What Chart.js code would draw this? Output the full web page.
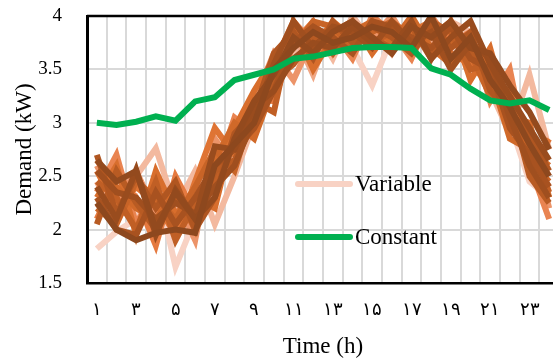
<!DOCTYPE html>
<html>
<head>
<meta charset="utf-8">
<script src="https://cdn.jsdelivr.net/npm/chart.js@4"></script>
<style>
  body { margin: 0; overflow: hidden; background: #fff; }
  #wrap { width: 562px; height: 358px; }
</style>
</head>
<body>
<div id="wrap"><canvas id="chart"></canvas></div>
<script>
// hours of the day, x tick labels in Persian digits
const hours = ['۱','۲','۳','۴','۵','۶','۷','۸','۹','۱۰','۱۱','۱۲','۱۳','۱۴','۱۵','۱۶','۱۷','۱۸','۱۹','۲۰','۲۱','۲۲','۲۳','۲۴'];
const yTicks = [1.5, 2, 2.5, 3, 3.5, 4];

// constant demand profile
const constant = [3.00,2.98,3.01,3.06,3.02,3.20,3.24,3.40,3.45,3.50,3.60,3.62,3.66,3.70,3.71,3.71,3.70,3.51,3.45,3.32,3.21,3.18,3.21,3.12];

// variable demand profiles (light -> dark)
const profile1  = [1.82,1.98,2.10,2.45,1.65,2.10,2.30,2.90,3.10,3.40,3.95,3.55,3.85,3.70,3.35,3.80,3.90,3.85,3.70,3.50,3.40,3.00,2.45,2.30];
const profile2  = [2.20,2.35,2.50,2.76,2.20,2.55,2.05,2.50,3.00,3.30,3.65,3.90,3.60,4.00,3.75,3.95,3.80,3.70,3.95,3.85,3.30,2.90,3.45,2.75];
const profile3  = [2.45,2.10,2.30,1.95,2.40,2.05,2.60,2.75,3.15,3.50,3.85,3.45,3.95,3.75,3.90,3.65,3.95,3.75,3.60,3.70,3.55,3.20,2.70,2.40];
const profile4  = [2.60,2.25,2.55,2.15,2.30,1.90,2.85,2.60,3.20,3.65,3.40,3.80,3.70,3.95,3.80,4.00,3.70,3.90,3.80,3.60,3.45,3.10,2.95,2.20];
const profile5  = [2.35,2.70,2.05,2.40,2.05,2.35,2.50,3.05,2.90,3.55,3.95,3.75,3.85,3.60,4.00,3.85,3.60,4.00,3.75,3.85,3.20,3.50,2.60,2.10];
const profile6  = [2.10,2.50,2.30,1.85,2.50,2.15,2.40,2.80,3.25,3.20,3.75,3.95,3.65,3.90,3.70,3.80,3.95,3.65,3.85,3.75,3.60,2.95,2.80,2.50];
const profile7  = [2.55,2.20,2.40,2.25,1.95,2.45,2.95,2.70,3.05,3.45,3.60,3.70,3.95,3.80,3.95,3.70,3.85,3.95,3.65,3.55,3.35,3.30,2.55,2.85];
const profile8  = [2.30,2.60,1.95,2.55,2.15,2.30,2.20,2.95,3.30,3.60,3.90,3.50,3.80,3.95,3.65,3.90,3.75,3.80,3.95,3.40,3.70,3.05,3.00,2.30];
const profile9  = [2.65,2.40,2.20,2.10,2.35,2.00,2.65,3.00,2.85,3.35,3.80,3.85,3.70,3.85,3.95,3.75,4.00,3.70,3.55,3.80,3.45,2.85,2.75,2.60];
const profile10 = [2.20,2.05,2.45,2.30,2.10,2.40,2.75,2.55,3.15,3.50,3.70,3.95,3.90,3.70,3.85,3.95,3.80,3.85,3.75,3.65,3.25,3.15,2.65,2.45];
const profile11 = [2.45,2.30,2.00,2.45,1.90,2.25,2.45,2.85,3.20,3.10,3.95,3.70,3.85,3.95,3.75,3.85,3.70,3.95,3.85,3.50,3.55,3.00,2.85,2.35];
const profile12 = [2.05,2.55,2.25,2.00,2.30,2.10,2.55,2.65,3.00,3.40,3.55,3.80,3.65,3.90,3.80,3.70,3.90,3.60,3.95,3.70,3.40,3.20,2.50,2.25];
const profile13 = [2.70,2.15,2.50,2.20,2.45,2.00,2.30,2.90,3.10,3.65,3.85,3.60,3.95,3.75,3.90,3.80,3.65,3.90,3.70,3.85,3.30,3.10,2.90,2.55];
const profile14 = [2.30,2.00,1.95,2.35,2.05,2.30,2.60,2.75,2.95,3.30,3.75,3.90,3.80,3.65,3.95,3.90,3.80,3.70,3.90,3.60,3.50,2.95,2.70,2.40];
const profile15 = [2.55,2.35,2.30,2.10,2.25,2.15,2.40,2.60,3.05,3.55,3.95,3.70,3.90,3.85,3.70,3.95,3.75,3.85,3.50,3.75,3.60,3.05,2.60,2.30];
const profile16 = [2.40,2.10,2.56,1.95,2.37,2.11,2.78,2.75,3.15,3.30,3.60,3.75,3.70,3.90,3.75,3.70,3.95,3.60,3.80,3.95,3.55,3.25,2.95,2.65];
const profile17 = [2.65,2.45,2.55,2.00,2.35,2.10,2.30,2.85,3.20,3.45,3.80,3.65,3.85,3.95,3.80,3.65,3.90,3.80,3.95,3.70,3.65,3.35,3.10,2.75];
const profile18 = [2.25,2.00,1.90,1.97,2.00,1.97,2.60,2.80,3.00,3.50,3.70,3.85,3.75,3.80,3.90,3.85,3.70,4.00,3.60,3.80,3.40,3.15,2.80,2.50];

const profiles = [profile1, profile2, profile3, profile4, profile5, profile6, profile7, profile8, profile9,
                  profile10, profile11, profile12, profile13, profile14, profile15, profile16, profile17, profile18];
const profileColors = ['#f8d2c4','#f3b99f','#f0a785','#ec9469','#e98451','#e57a40','#df7434','#d86e2d','#d06929',
                       '#c86427','#c05f25','#b85b23','#b05621','#a85220','#a04f1f','#994c1e','#934a1e','#8d481e'];
const constantColor = '#00b050';

const serif = "'Liberation Serif', 'Times New Roman', serif";

let datasets = [{
    label: 'Constant',
    data: constant,
    borderColor: constantColor,
    borderWidth: 6,
    order: 0,
    clip: 0
}];
for (let i = 0; i < profiles.length; i++) {
    datasets.push({
        label: i === 0 ? 'Variable' : '',
        data: profiles[i],
        borderColor: profileColors[i],
        borderWidth: 6,
        order: profiles.length - i,  // darker ones end up on top
        clip: 0
    });
}

// legend sits inside the plot, Excel style
const insideLegend = {
    id: 'insideLegend',
    afterDraw(chart) {
        const ctx = chart.ctx;
        const items = [
            { text: 'Variable', color: profileColors[0], y: 184 },
            { text: 'Constant', color: constantColor, y: 237 }
        ];
        ctx.save();
        ctx.lineCap = 'round';
        ctx.font = '23px ' + serif;
        ctx.textBaseline = 'middle';
        ctx.fillStyle = '#000';
        items.forEach(it => {
            ctx.strokeStyle = it.color;
            ctx.lineWidth = 6;
            ctx.beginPath();
            ctx.moveTo(298, it.y);
            ctx.lineTo(350, it.y);
            ctx.stroke();
            ctx.fillText(it.text, 355, it.y + 1);
        });
        ctx.restore();
    }
};

// black line along the top of the plot area
const topBorder = {
    id: 'topBorder',
    afterDatasetsDraw(chart) {
        const a = chart.chartArea;
        const ctx = chart.ctx;
        ctx.save();
        ctx.strokeStyle = '#000';
        ctx.lineWidth = 2.5;
        ctx.beginPath();
        ctx.moveTo(a.left, a.top);
        ctx.lineTo(a.right + 5, a.top);
        ctx.stroke();
        ctx.restore();
    }
};

new Chart(document.getElementById('chart'), {
    type: 'line',
    data: { labels: hours, datasets },
    options: {
        responsive: true,
        maintainAspectRatio: false,
        animation: false,
        layout: { padding: { top: 16, right: 3, left: 0, bottom: 0 } },
        elements: { point: { radius: 0 }, line: { tension: 0 } },
        plugins: { legend: { display: false }, tooltip: { enabled: false } },
        scales: {
            x: {
                offset: true,
                // invisible tick marks make the gap under the axis
                grid: { offset: true, color: '#d9d9d9', lineWidth: 2, drawTicks: true, tickLength: 14, tickColor: 'transparent' },
                border: { color: '#000', width: 2.5 },
                ticks: {
                    autoSkip: false,
                    maxRotation: 0,
                    padding: 2,
                    color: '#000',
                    font: { family: serif, size: 18 },
                    callback: (v, i) => i % 2 === 0 ? hours[i] : ''
                },
                title: {
                    display: true,
                    text: 'Time (h)',
                    color: '#000',
                    font: { family: serif, size: 23, lineHeight: 1 },
                    padding: { top: 0, bottom: 0 }
                },
                afterFit: s => { s.height = 75; }
            },
            y: {
                min: 1.5,
                max: 4,
                afterBuildTicks: s => { s.ticks = yTicks.map(v => ({ value: v })); },
                grid: { color: '#d9d9d9', lineWidth: 2, drawTicks: true, tickLength: 22, tickColor: 'transparent' },
                border: { color: '#000', width: 3 },
                ticks: {
                    padding: 3,
                    color: '#000',
                    font: { family: serif, size: 19 },
                    callback: v => String(v)
                },
                title: {
                    display: true,
                    text: 'Demand (kW)',
                    color: '#000',
                    font: { family: serif, size: 23, lineHeight: 1 },
                    padding: { top: 13, bottom: 0 }
                },
                afterFit: s => { s.width = 87; }
            }
        }
    },
    plugins: [insideLegend, topBorder]
});
</script>
</body>
</html>
